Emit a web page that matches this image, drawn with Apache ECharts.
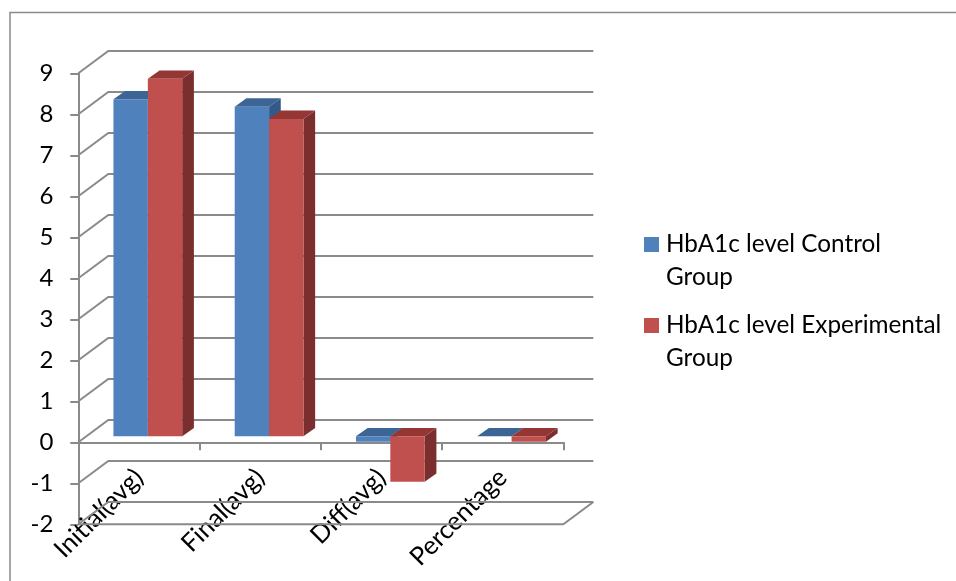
<!DOCTYPE html>
<html>
<head>
<meta charset="utf-8">
<style>html,body{margin:0;padding:0;background:#fff}#chart{width:956px;height:581px}</style>
<script src="https://cdn.jsdelivr.net/npm/echarts@6/dist/echarts.min.js"></script>
</head>
<body>
<div id="chart"></div>
<script>
// HbA1c levels by group, drawn as a perspective column chart
const categories = ['Initial(avg)', 'Final(avg)', 'Diff(avg)', 'Percentage'];
const controlGroup = [8.22, 8.04, -0.13, 0];
const experimentalGroup = [8.72, 7.74, -1.11, -0.13];
const valueTicks = [-2, -1, 0, 1, 2, 3, 4, 5, 6, 7, 8, 9];
const controlName = 'HbA1c level Control Group';
const experimentalName = 'HbA1c level Experimental Group';
const legendLines = {
  [controlName]: 'HbA1c level Control\nGroup',
  [experimentalName]: 'HbA1c level Experimental\nGroup'
};

const GRID_COLOR = '#8A8A8A';
const LINE_WIDTH = 2;
const FONT = 'Lato';
// Perspective offsets in pixels: the back wall, and the columns inside the floor
const WALL_DX = 30, WALL_DY = 22.3;
const BAR_DX = 8.9, BAR_DY = 6, BAR_DEPTH_X = 11.7, BAR_DEPTH_Y = 8.4;
const BAR_WIDTH_SHARE = 0.2835;

function wallLine(params, api) {
  const v = api.value(1);
  const band = api.size([1, 0])[0];
  const left = api.coord([0, v])[0] - band / 2;
  const right = left + band * categories.length;
  const y = api.coord([0, v])[1];
  const points = [[left, y], [left + WALL_DX, y - WALL_DY], [right + WALL_DX, y - WALL_DY]];
  const children = [{
    type: 'polyline',
    shape: { points },
    style: { fill: null, stroke: GRID_COLOR, lineWidth: LINE_WIDTH }
  }];
  // The floor edge runs along the front and up the right side
  if (v === valueTicks[0]) {
    children.push({
      type: 'polyline',
      shape: { points: [[left, y], [right, y], [right + WALL_DX, y - WALL_DY]] },
      style: { fill: null, stroke: GRID_COLOR, lineWidth: LINE_WIDTH }
    });
  }
  return { type: 'group', children };
}

function column(slot, front, top, side) {
  return function (params, api) {
    const idx = api.value(0), v = api.value(1);
    const band = api.size([1, 0])[0];
    const w = band * BAR_WIDTH_SHARE;
    const c = api.coord([idx, 0]);
    const x0 = c[0] + BAR_DX + (slot - 1) * w;
    const x1 = x0 + w;
    const yZero = c[1] - BAR_DY;
    const yVal = api.coord([idx, v])[1] - BAR_DY;
    const yTop = Math.min(yZero, yVal), yBottom = Math.max(yZero, yVal);
    return {
      type: 'group',
      children: [
        { type: 'polygon', shape: { points: [[x1, yTop], [x1 + BAR_DEPTH_X, yTop - BAR_DEPTH_Y], [x1 + BAR_DEPTH_X, yBottom - BAR_DEPTH_Y], [x1, yBottom]] }, style: { fill: side } },
        { type: 'polygon', shape: { points: [[x0, yTop], [x1, yTop], [x1 + BAR_DEPTH_X, yTop - BAR_DEPTH_Y], [x0 + BAR_DEPTH_X, yTop - BAR_DEPTH_Y]] }, style: { fill: top } },
        { type: 'rect', shape: { x: x0, y: yTop, width: w, height: yBottom - yTop }, style: { fill: front } }
      ]
    };
  };
}

const toPairs = values => values.map((v, i) => [i, v]);

const chart = echarts.init(document.getElementById('chart'), null, { renderer: 'canvas' });
chart.setOption({
  animation: false,
  backgroundColor: '#fff',
  grid: { left: 78.3, top: 73.3, width: 485, height: 451, outerBoundsMode: 'none' },
  xAxis: {
    type: 'category',
    data: categories,
    axisLine: { lineStyle: { color: GRID_COLOR, width: LINE_WIDTH } },
    axisTick: { show: true, length: 8, lineStyle: { color: GRID_COLOR, width: LINE_WIDTH } },
    axisLabel: { interval: 0, rotate: 45, margin: -51, fontFamily: FONT, fontSize: 25.5, color: '#000' }
  },
  yAxis: {
    type: 'value',
    min: -2,
    max: 9,
    interval: 1,
    splitLine: { show: false },
    axisLine: { show: true, lineStyle: { color: GRID_COLOR, width: LINE_WIDTH } },
    axisTick: { show: true, length: 8, lineStyle: { color: GRID_COLOR, width: LINE_WIDTH } },
    axisLabel: { margin: 25, fontFamily: FONT, fontSize: 24, color: '#000', padding: [5, 0, 0, 0] }
  },
  legend: {
    left: 644,
    top: 227.5,
    padding: 0,
    orient: 'vertical',
    itemGap: 15,
    itemWidth: 17,
    itemHeight: 66,
    selectedMode: false,
    data: [controlName, experimentalName].map(name => ({
      name,
      // Square sits beside the first line of the two-line label
      icon: 'path://M0 0L0 0ZM0 9.5H15V24.5H0ZM17 66L17 66Z'
    })),
    formatter: name => legendLines[name],
    textStyle: { fontFamily: FONT, fontSize: 24.3, lineHeight: 33, color: '#000' }
  },
  series: [
    { type: 'custom', name: 'walls', silent: true, z: 1, data: valueTicks.map(v => [0, v]), encode: { x: 0, y: 1 }, renderItem: wallLine },
    { type: 'custom', name: controlName, silent: true, z: 3, itemStyle: { color: '#4F81BD' }, data: toPairs(controlGroup), encode: { x: 0, y: 1 }, renderItem: column(0, '#4F81BD', '#3C6494', '#335A86') },
    { type: 'custom', name: experimentalName, silent: true, z: 4, itemStyle: { color: '#C0504D' }, data: toPairs(experimentalGroup), encode: { x: 0, y: 1 }, renderItem: column(1, '#C0504D', '#943634', '#7A2F2E') }
  ],
  graphic: [{
    type: 'polyline',
    silent: true,
    shape: { points: [[10, 581], [10, 12.5], [956, 12.5]] },
    style: { fill: null, stroke: GRID_COLOR, lineWidth: 1.5 }
  }]
});
</script>
</body>
</html>
